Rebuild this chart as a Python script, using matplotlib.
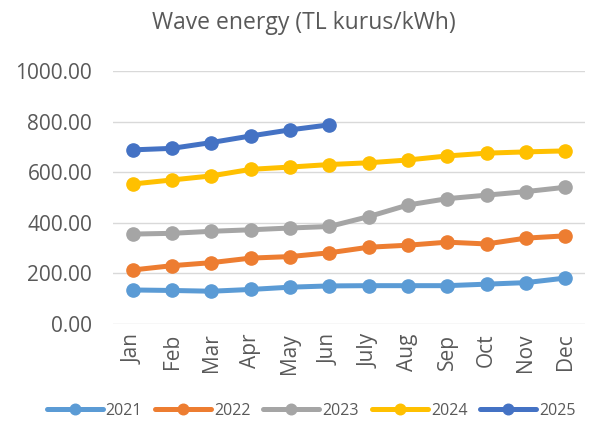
import matplotlib.pyplot as plt

months = ["Jan", "Feb", "Mar", "Apr", "May", "Jun", "July", "Aug", "Sep", "Oct", "Nov", "Dec"]
years = ["2021", "2022", "2023", "2024", "2025"]
v2021 = [134, 132, 129, 136, 145, 150, 151, 151, 151, 157, 163, 181]
v2022 = [213, 230, 242, 260, 266, 281, 303, 311, 323, 316, 339, 348]
v2023 = [355, 358, 366, 372, 379, 385, 424, 470, 495, 509, 523, 540]
v2024 = [553, 569, 585, 611, 620, 630, 637, 648, 664, 675, 680, 684]
v2025 = [688, 694, 717, 743, 767, 787]
colors = ["#5B9BD5", "#ED7D31", "#A5A5A5", "#FFC000", "#4472C4"]

plt.rcParams["font.family"] = ["Open Sans", "DejaVu Sans"]

fig = plt.figure(figsize=(5.95, 4.25), dpi=100)
ax = fig.add_axes([0.19, 0.238, 0.793, 0.595])

for year, vals, c in zip(years, [v2021, v2022, v2023, v2024, v2025], colors):
    ax.plot(range(len(vals)), vals, color=c, lw=3.6, marker="o", ms=9.5,
            label=year, solid_capstyle="round")

ax.set_ylim(0, 1000)
ax.set_xlim(-0.5, 11.5)
ax.set_yticks(range(0, 1001, 200))
ax.set_yticklabels([f"{v:.2f}" for v in range(0, 1001, 200)])
ax.set_xticks(range(12))
ax.set_xticklabels(months, rotation=90)
ax.grid(axis="y", color="#D9D9D9", lw=1)
ax.set_axisbelow(True)
for s in ax.spines.values():
    s.set_visible(False)
ax.tick_params(length=0, labelsize=15, colors="#595959")
ax.tick_params(axis="x", pad=7)
ax.tick_params(axis="y", pad=15)

fig.suptitle("Wave energy (TL kurus/kWh)", x=0.51, y=0.975, fontsize=16.5, color="#595959")

fig.legend(loc="center", bbox_to_anchor=(0.523, 0.033), ncol=5, frameon=False,
           fontsize=11.5, handlelength=3.5, columnspacing=0.8, handletextpad=0.2,
           markerscale=0.8, labelcolor="#595959")

fig.savefig("out.png", dpi=100)
